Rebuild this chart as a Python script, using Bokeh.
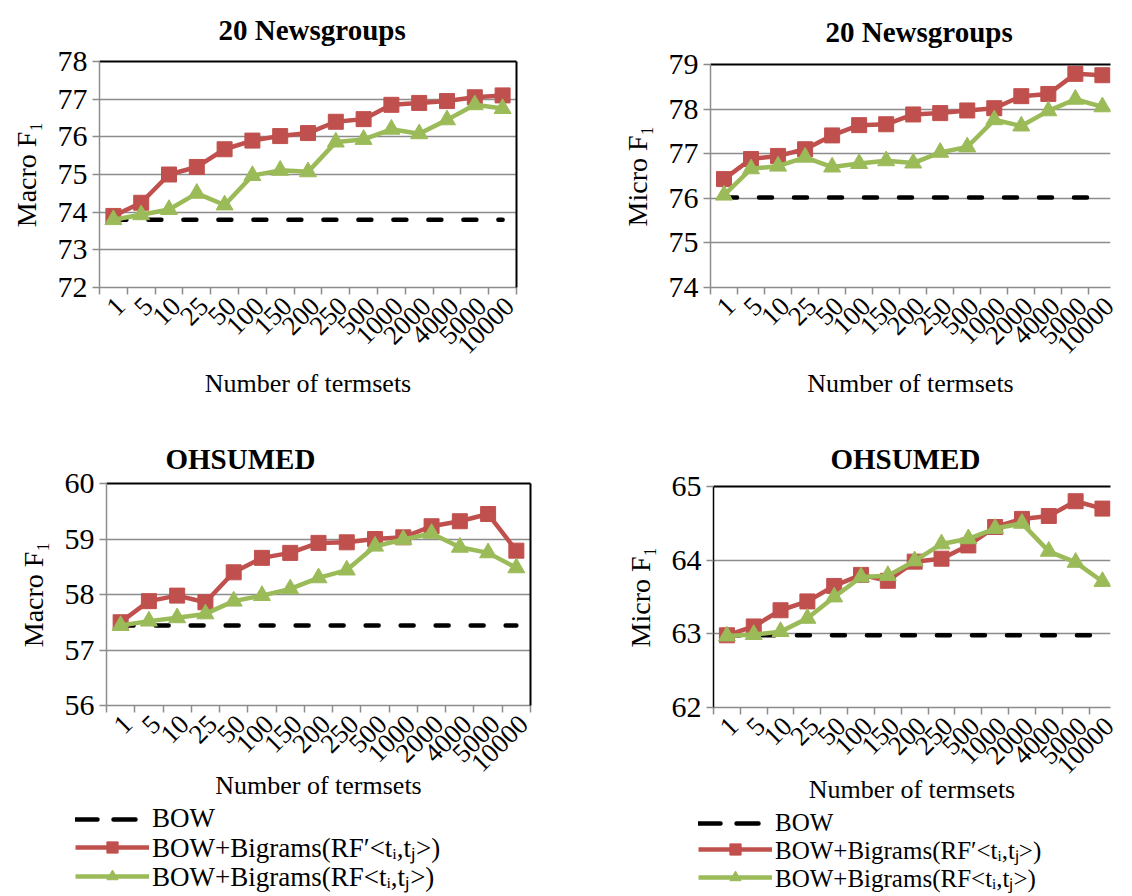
from bokeh.plotting import figure
from bokeh.models import FixedTicker, LinearAxis, Range1d, Legend, LegendItem, Grid
from bokeh.layouts import column, row
from bokeh.embed import file_html
from bokeh.resources import INLINE

# ---------------- data ----------------
categories = ["1", "5", "10", "25", "50", "100", "150", "200", "250",
              "500", "1000", "2000", "4000", "5000", "10000"]

# 20 Newsgroups, Macro F1
ng_macro_bow = 73.8
ng_macro_rfp = [73.9, 74.25, 75.0, 75.2, 75.67, 75.9, 76.02, 76.1, 76.4, 76.47,
                76.85, 76.9, 76.95, 77.05, 77.1]
ng_macro_rf = [73.8, 73.93, 74.07, 74.5, 74.19, 74.97, 75.11, 75.07, 75.86, 75.93,
               76.2, 76.08, 76.45, 76.85, 76.75]

# 20 Newsgroups, Micro F1
ng_micro_bow = 76.02
ng_micro_rfp = [76.43, 76.88, 76.95, 77.1, 77.41, 77.64, 77.66, 77.88, 77.91, 77.97,
                78.02, 78.29, 78.34, 78.79, 78.76]
ng_micro_rf = [76.07, 76.66, 76.72, 76.92, 76.7, 76.78, 76.84, 76.79, 77.03, 77.15,
               77.76, 77.62, 77.96, 78.22, 78.05]

# OHSUMED, Macro F1
oh_macro_bow = 57.44
oh_macro_rfp = [57.5, 57.88, 57.98, 57.86, 58.4, 58.66, 58.75, 58.93, 58.94, 59.0,
                59.03, 59.23, 59.32, 59.45, 58.79]
oh_macro_rf = [57.44, 57.52, 57.58, 57.65, 57.88, 57.98, 58.1, 58.3, 58.44, 58.87,
               58.99, 59.1, 58.85, 58.75, 58.48]

# OHSUMED, Micro F1
oh_micro_bow = 62.98
oh_micro_rfp = [62.98, 63.1, 63.32, 63.44, 63.65, 63.8, 63.72, 63.98, 64.02, 64.2,
                64.45, 64.56, 64.6, 64.8, 64.7]
oh_micro_rf = [62.97, 62.99, 63.03, 63.21, 63.5, 63.77, 63.79, 63.99, 64.22, 64.29,
               64.43, 64.5, 64.12, 63.97, 63.71]

legend_labels = ["BOW", "BOW+Bigrams(RF\u2032<t\u1d62,t\u2c7c>)", "BOW+Bigrams(RF<t\u1d62,t\u2c7c>)"]

FONT = "Liberation Serif"
RED = "#C0504D"
GREEN = "#9BBB59"
GRID = "#8C8C8C"
LW = 4.5
LABEL_SHIFT = 0.25   # Excel-like placement of the slanted category labels


def panel(title, title_offset, title_standoff, ylabel, ylo, yhi, bow, rfp, rf,
          width, height, mbl, mbr, mbt, mbb, xend, left_axis_color, right_border,
          xlabel_standoff):
    xs = list(range(len(categories)))
    p = figure(width=width, height=height, output_backend="svg", toolbar_location=None,
               x_range=Range1d(-0.5, xend), y_range=Range1d(ylo, yhi),
               min_border_left=mbl, min_border_right=mbr, min_border_top=mbt,
               min_border_bottom=mbb, outline_line_color=None, x_axis_type=None,
               y_axis_type=None, background_fill_color="white", border_fill_color="white")
    p.frame_align = False
    p.title.text = title
    p.title.text_font = FONT
    p.title.text_font_size = "29px"
    p.title.text_font_style = "bold"
    p.title.align = "left"
    p.title.vertical_align = "top"
    p.title.offset = title_offset
    p.title.standoff = title_standoff
    p.title.text_color = "black"

    # bottom axis (categories)
    label_pos = [i + LABEL_SHIFT for i in xs]
    xaxis = LinearAxis(ticker=FixedTicker(ticks=label_pos,
                                          minor_ticks=[i - 0.5 for i in range(len(xs) + 1)]))
    xaxis.major_label_overrides = {pos: c for pos, c in zip(label_pos, categories)}
    xaxis.major_label_orientation = 0.785398
    xaxis.major_tick_line_color = None
    xaxis.minor_tick_line_color = GRID
    xaxis.minor_tick_line_width = 1.5
    xaxis.minor_tick_out = 7
    xaxis.minor_tick_in = 0
    xaxis.axis_line_color = GRID
    xaxis.axis_line_width = 1.5
    xaxis.major_label_text_font = FONT
    xaxis.major_label_text_font_size = "27px"
    xaxis.major_label_text_color = "black"
    xaxis.major_label_standoff = 7
    xaxis.axis_label = "Number of termsets"
    xaxis.axis_label_text_font = FONT
    xaxis.axis_label_text_font_size = "26px"
    xaxis.axis_label_text_font_style = "normal"
    xaxis.axis_label_text_color = "black"
    xaxis.axis_label_standoff = xlabel_standoff
    p.add_layout(xaxis, "below")

    yaxis = LinearAxis(ticker=FixedTicker(ticks=list(range(ylo, yhi + 1))))
    yaxis.minor_tick_line_color = None
    yaxis.major_tick_line_color = GRID
    yaxis.major_tick_line_width = 1.5
    yaxis.major_tick_out = 7
    yaxis.major_tick_in = 0
    yaxis.axis_line_color = left_axis_color
    yaxis.axis_line_width = 1.5
    yaxis.major_label_text_font = FONT
    yaxis.major_label_text_font_size = "30px"
    yaxis.major_label_text_color = "black"
    yaxis.major_label_standoff = 5
    yaxis.axis_label = ylabel
    yaxis.axis_label_text_font = FONT
    yaxis.axis_label_text_font_size = "28px"
    yaxis.axis_label_text_font_style = "normal"
    yaxis.axis_label_text_color = "black"
    yaxis.axis_label_standoff = 13
    p.add_layout(yaxis, "left")

    top = LinearAxis(ticker=FixedTicker(ticks=[]), axis_line_color="black", axis_line_width=2,
                     major_tick_line_color=None, minor_tick_line_color=None)
    p.add_layout(top, "above")
    if right_border:
        rb = LinearAxis(ticker=FixedTicker(ticks=[]), axis_line_color="black", axis_line_width=2,
                        major_tick_line_color=None, minor_tick_line_color=None)
        p.add_layout(rb, "right")

    p.add_layout(Grid(dimension=1, ticker=yaxis.ticker, grid_line_color=GRID, grid_line_width=1.5))

    p.line(xs, [bow] * len(xs), line_color="black", line_width=LW,
           line_dash="13 22", line_cap="round")
    p.line(xs, rfp, line_color=RED, line_width=LW)
    p.scatter(xs, rfp, marker="square", size=15, fill_color=RED, line_color=RED)
    p.line(xs, rf, line_color=GREEN, line_width=LW)
    p.scatter(xs, rf, marker="triangle", size=17, fill_color=GREEN, line_color=GREEN)
    return p


def legend_box(width, height, x, ys, font_size, bow, rfp, rf):
    # legend-only canvas; its ranges keep the proxy series out of view
    xs = list(range(len(categories)))
    q = figure(width=width, height=height, output_backend="svg", toolbar_location=None,
               x_range=Range1d(-3, -2), y_range=Range1d(0, 1),
               min_border_left=0, min_border_right=0, min_border_top=0, min_border_bottom=0,
               outline_line_color=None, x_axis_type=None, y_axis_type=None,
               background_fill_color="white", border_fill_color="white")
    q.frame_align = False
    q.xgrid.visible = False
    q.ygrid.visible = False
    b = q.line(xs, [bow] * len(xs), line_color="black", line_width=LW, line_dash="22 16", line_cap="round")
    rl = q.line(xs, rfp, line_color=RED, line_width=LW)
    rm = q.scatter(xs, rfp, marker="square", size=15, fill_color=RED, line_color=RED)
    gl = q.line(xs, rf, line_color=GREEN, line_width=LW)
    gm = q.scatter(xs, rf, marker="triangle", size=17, fill_color=GREEN, line_color=GREEN)
    groups = [[b], [rl, rm], [gl, gm]]
    for label, rends, y in zip(legend_labels, groups, ys):
        leg = Legend(items=[LegendItem(label=label, renderers=rends)],
                     location=(x, y), orientation="vertical",
                     label_text_font=FONT, label_text_font_size=font_size,
                     label_text_color="black", glyph_width=74, glyph_height=28,
                     label_standoff=3, spacing=0, padding=0, margin=0,
                     border_line_color=None, background_fill_alpha=0)
        q.add_layout(leg, "center")
    return q


p1 = panel("20 Newsgroups", 119, 27, "Macro F\u2081", 72, 78, ng_macro_bow, ng_macro_rfp, ng_macro_rf,
           564, 430, 99, 48, 57, 143, 14.5, GRID, True, 4)
p2 = panel("20 Newsgroups", 115, 30, "Micro F\u2081", 74, 79, ng_micro_bow, ng_micro_rfp, ng_micro_rf,
           564, 430, 146, 18, 57, 143, 14.3, GRID, False, 4)
p3 = panel("OHSUMED", 59, 14, "Macro F\u2081", 56, 60, oh_macro_bow, oh_macro_rfp, oh_macro_rf,
           564, 372, 106, 34, 53, 95, 14.5, GRID, True, -12)
p4 = panel("OHSUMED", 117, 20, "Micro F\u2081", 62, 65, oh_micro_bow, oh_micro_rfp, oh_micro_rf,
           564, 376, 149, 18, 56, 97, 14.3, "black", False, -10)

l3 = legend_box(564, 92, 75, [60, 29, 0], "27px", oh_macro_bow, oh_macro_rfp, oh_macro_rf)
l4 = legend_box(564, 88, 134, [57, 28, 0], "25px", oh_micro_bow, oh_micro_rfp, oh_micro_rf)

layout = column(row(p1, p2), row(column(p3, l3), column(p4, l4)))
open("out.html", "w").write(file_html(layout, INLINE))
